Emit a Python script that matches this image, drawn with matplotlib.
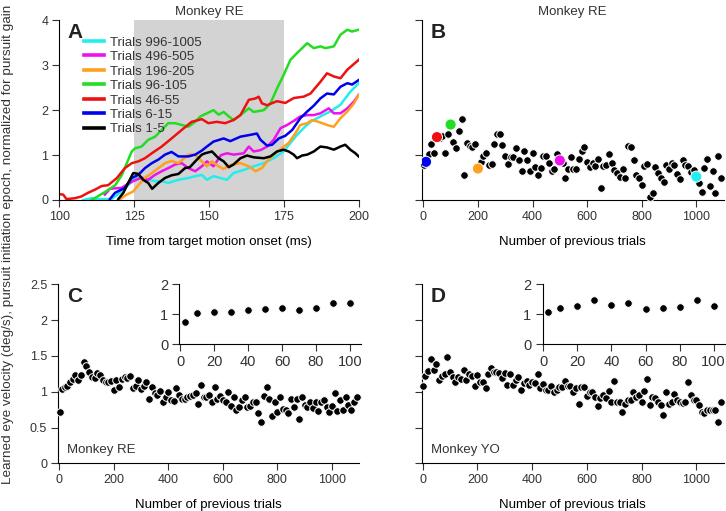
import matplotlib
matplotlib.use("Agg")
import matplotlib.pyplot as plt
import numpy as np

plt.rcParams['font.family'] = ['Liberation Sans', 'DejaVu Sans']
plt.rcParams['font.size'] = 9
plt.rcParams['text.color'] = '#333333'
plt.rcParams['xtick.color'] = '#333333'
plt.rcParams['ytick.color'] = '#333333'

# panel A: learned eye velocity over time, one line per trial block
green_t = [110.8, 115.3, 118.7, 120.9, 124.2, 125.3, 127.5, 129.7, 132.0, 134.2, 136.4, 138.7, 140.9, 143.1,
           145.4, 147.1, 149.3, 151.5, 153.2, 154.9, 156.6, 158.2, 160.5, 163.3, 164.9, 168.3, 170.5, 172.7,
           174.9, 177.2, 179.4, 182.8, 185.0, 187.2, 188.9, 191.7, 193.9, 196.2, 197.8, 200.0]
green_v = [0.0, 0.18, 0.33, 0.56, 1.08, 1.15, 1.19, 1.34, 1.41, 1.56, 1.71, 1.71, 1.67, 1.63,
           1.74, 1.86, 1.93, 2.0, 1.9, 1.96, 1.86, 1.78, 1.89, 2.04, 1.96, 2.0, 2.15, 2.48,
           2.78, 3.12, 3.27, 3.49, 3.38, 3.42, 3.38, 3.42, 3.68, 3.79, 3.75, 3.79]
red_t = [100.0, 101.3, 102.4, 105.2, 107.4, 109.6, 111.9, 114.1, 116.3, 119.1, 121.9, 124.2, 126.4, 128.6,
         130.9, 134.2, 137.5, 140.9, 144.2, 147.6, 149.8, 152.6, 155.4, 158.2, 160.5, 163.3, 165.5, 166.6,
         167.7, 169.4, 172.7, 175.5, 178.3, 181.6, 183.9, 187.2, 189.4, 191.7, 193.9, 196.2, 200.0]
red_v = [0.13, 0.12, 0.02, 0.04, 0.08, 0.16, 0.23, 0.31, 0.33, 0.48, 0.71, 0.82, 0.86, 0.93,
         1.04, 1.19, 1.37, 1.56, 1.74, 1.8, 1.71, 1.74, 1.71, 1.78, 1.89, 2.23, 2.26, 2.3,
         2.15, 2.11, 2.2, 2.16, 2.27, 2.3, 2.37, 2.63, 2.82, 2.75, 2.71, 2.9, 3.12]
blue_t = [116.9, 118.6, 121.9, 124.2, 126.4, 128.6, 130.9, 133.1, 135.3, 137.5, 139.8, 143.1, 145.4, 147.6,
          149.3, 151.5, 154.9, 157.1, 160.5, 163.8, 166.0, 167.2, 169.4, 171.1, 173.3, 175.5, 177.8, 180.5,
          182.8, 185.0, 187.2, 189.4, 191.7, 193.9, 196.2, 197.8, 200.0]
blue_v = [0.02, 0.16, 0.27, 0.49, 0.56, 0.71, 0.82, 0.9, 1.01, 1.07, 0.97, 0.97, 1.01, 1.1,
          1.19, 1.3, 1.37, 1.31, 1.41, 1.45, 1.48, 1.34, 1.21, 1.23, 1.37, 1.43, 1.56, 1.82,
          1.97, 2.1, 2.26, 2.37, 2.35, 2.52, 2.6, 2.57, 2.67]
magenta_t = [115.2, 116.9, 120.8, 122.5, 124.7, 127.5, 129.7, 132.0, 134.2, 136.4, 138.7, 140.9, 143.1,
             145.4, 147.6, 149.3, 151.5, 154.0, 156.0, 158.2, 161.6, 163.3, 164.9, 167.2, 169.4, 171.6,
             173.9, 176.1, 178.3, 180.5, 182.8, 185.0, 187.2, 190.0, 191.7, 193.9, 196.2, 198.4, 200.0]
magenta_v = [0.12, 0.25, 0.27, 0.34, 0.42, 0.5, 0.45, 0.56, 0.64, 0.71, 0.79, 0.82, 0.71,
             0.64, 0.75, 0.86, 0.75, 1.0, 1.04, 1.01, 1.04, 1.19, 1.08, 1.11, 1.19, 1.34,
             1.6, 1.67, 1.76, 1.86, 1.89, 1.89, 1.93, 2.04, 1.93, 1.93, 2.04, 2.19, 2.34]
orange_t = [120.3, 122.5, 124.7, 126.4, 128.6, 130.9, 133.1, 135.3, 137.5, 139.8, 143.1, 145.4, 147.6,
            149.3, 151.0, 153.2, 154.9, 157.1, 160.5, 163.3, 165.5, 167.7, 169.4, 171.6, 174.4, 176.6,
            178.9, 180.5, 182.8, 184.4, 186.6, 189.4, 191.7, 193.9, 196.2, 198.4, 200.0]
orange_v = [0.02, 0.12, 0.19, 0.33, 0.49, 0.6, 0.71, 0.82, 0.87, 0.82, 1.01, 1.01, 0.86,
            0.75, 0.86, 0.75, 0.69, 0.78, 0.82, 0.75, 0.64, 0.71, 0.86, 1.01, 1.16, 1.27,
            1.49, 1.67, 1.71, 1.78, 1.74, 1.67, 1.63, 1.82, 1.97, 2.15, 2.34]
cyan_t = [108.0, 110.8, 113.0, 117.4, 120.8, 123.0, 125.3, 127.5, 129.7, 132.0, 134.2, 136.4, 139.8,
          143.1, 145.4, 147.6, 149.3, 151.5, 153.8, 156.0, 158.2, 161.6, 164.9, 168.3, 171.6, 174.9,
          177.2, 179.4, 181.6, 183.9, 187.2, 190.5, 193.9, 197.2, 200.0]
cyan_v = [0.0, 0.04, 0.02, 0.02, 0.19, 0.33, 0.49, 0.49, 0.45, 0.42, 0.42, 0.38, 0.45,
          0.49, 0.53, 0.56, 0.45, 0.53, 0.49, 0.45, 0.6, 0.67, 0.75, 0.82, 0.93, 1.08,
          1.27, 1.45, 1.6, 1.74, 1.86, 1.97, 2.12, 2.41, 2.6]
black_t = [119.7, 121.4, 123.0, 124.7, 126.4, 128.0, 129.7, 131.0, 133.1, 135.3, 137.5, 139.8, 142.0,
           143.6, 145.4, 147.6, 148.7, 151.0, 153.2, 154.9, 156.6, 158.2, 160.5, 162.7, 164.9, 168.3,
           170.5, 172.7, 174.9, 176.6, 178.3, 179.4, 181.1, 182.8, 185.0, 187.2, 189.4, 191.7, 193.9,
           195.5, 197.2, 198.9, 200.0]
black_v = [0.02, 0.16, 0.38, 0.6, 0.58, 0.45, 0.38, 0.25, 0.38, 0.49, 0.55, 0.58, 0.71,
           0.73, 0.86, 1.01, 1.04, 1.08, 0.93, 0.86, 0.73, 0.79, 0.93, 0.99, 0.95, 0.93,
           0.97, 1.08, 1.12, 1.08, 1.01, 0.93, 0.99, 1.01, 1.08, 1.19, 1.17, 1.12, 1.19,
           1.23, 1.12, 1.04, 0.97]

# trial numbers for the block means (B, C, D)
trials = [3] + list(range(10, 1100, 10))

b_vals = [0.77, 0.85, 1.02, 1.25, 1.05, 1.40, 1.37, 1.42, 1.04, 1.47, 1.68, 1.28, 1.16, 1.54, 1.81,
          0.56, 1.26, 1.21, 1.18, 1.25, 0.70, 0.85, 0.97, 1.04, 0.78, 0.80, 1.25, 1.46, 1.46, 1.22,
          0.99, 0.80, 0.95, 0.95, 1.15, 0.90, 0.65, 1.09, 0.90, 0.65, 1.04, 0.74, 0.56, 0.72, 0.99,
          0.97, 0.83, 0.65, 0.70, 1.02, 0.88, 0.82, 0.48, 0.70, 0.95, 0.70, 0.69, 0.91, 1.10, 1.19,
          0.84, 0.74, 0.82, 0.76, 0.91, 0.26, 0.76, 0.78, 1.02, 0.82, 0.67, 0.61, 0.52, 0.70, 0.48,
          1.20, 1.19, 0.89, 0.56, 0.48, 0.33, 0.76, 0.80, 0.06, 0.16, 0.73, 0.59, 0.50, 0.39, 0.78,
          0.68, 0.82, 0.78, 0.58, 0.46, 0.88, 0.78, 0.76, 0.63, 0.67, 0.52, 0.37, 0.17, 0.72, 0.91,
          0.31, 0.65, 0.15, 0.99, 0.50]
# highlighted blocks in B (same colours as A)
hl_trials = [10, 50, 100, 200, 500, 1000]
hl_vals = [0.85, 1.40, 1.68, 0.70, 0.88, 0.52]
hl_cols = ['#0000ee', '#ee1111', '#22dd22', '#ffa020', '#ee11ee', '#22eeee']

c_vals = [0.72, 1.04, 1.06, 1.08, 1.13, 1.18, 1.23, 1.17, 1.24, 1.41, 1.36, 1.28, 1.20, 1.19, 1.26,
          1.23, 1.17, 1.13, 1.13, 1.15, 1.03, 1.17, 1.06, 1.18, 1.20, 1.19, 1.22, 1.05, 1.08, 1.17,
          1.04, 1.08, 1.14, 0.90, 1.06, 0.98, 0.95, 1.01, 0.85, 0.92, 1.00, 0.88, 0.87, 1.05, 0.95,
          0.90, 0.90, 0.92, 0.94, 0.96, 0.98, 0.83, 1.10, 0.92, 0.93, 0.95, 0.85, 1.06, 0.90, 0.94,
          0.88, 0.85, 1.00, 0.80, 0.92, 0.75, 0.78, 0.88, 0.92, 0.78, 0.80, 0.85, 0.85, 0.70, 0.58,
          0.94, 1.06, 0.90, 0.66, 0.86, 0.72, 0.93, 0.76, 0.74, 0.70, 0.90, 0.78, 0.90, 0.62, 0.92,
          0.82, 0.78, 0.86, 0.77, 0.86, 0.73, 0.86, 0.88, 0.78, 0.72, 0.80, 0.98, 0.73, 0.88, 0.74,
          0.93, 0.82, 0.75, 0.86, 0.92]
d_vals = [1.08, 1.22, 1.29, 1.46, 1.31, 1.39, 1.17, 1.22, 1.25, 1.49, 1.27, 1.20, 1.14, 1.21, 1.18,
          1.30, 1.16, 1.25, 1.22, 1.08, 1.23, 1.13, 1.13, 1.05, 1.25, 1.33, 1.28, 1.27, 1.26, 1.19,
          1.26, 1.09, 1.25, 1.09, 1.17, 1.21, 1.03, 1.12, 1.15, 1.10, 1.13, 1.12, 1.25, 1.05, 1.11,
          1.03, 1.02, 1.08, 1.00, 1.03, 1.07, 1.06, 1.15, 1.08, 1.08, 1.00, 1.05, 0.83, 1.06, 1.06,
          0.94, 1.00, 1.00, 0.93, 0.80, 0.91, 0.95, 0.91, 1.01, 0.86, 1.15, 0.86, 0.86, 0.71, 0.83,
          0.89, 0.89, 1.00, 0.93, 0.95, 0.86, 1.01, 1.18, 0.81, 0.93, 0.91, 0.85, 0.81, 0.68, 1.00,
          0.83, 0.85, 0.97, 0.88, 0.86, 0.84, 0.85, 1.13, 0.95, 0.89, 0.88, 0.82, 0.71, 0.70, 0.74,
          0.75, 0.74, 0.74, 0.57, 0.85]

inset_trials = [3, 10, 20, 30, 40, 50, 60, 70, 80, 90, 100]
c_inset = [0.73, 1.05, 1.07, 1.08, 1.13, 1.19, 1.22, 1.15, 1.22, 1.39, 1.36]
d_inset = [1.08, 1.22, 1.29, 1.46, 1.31, 1.38, 1.17, 1.22, 1.23, 1.48, 1.27]

W, H = 726, 511
fig = plt.figure(figsize=(W / 100, H / 100), dpi=100)


def px_axes(x0, x1, ytop, ybot):
    return fig.add_axes([x0 / W, 1 - ybot / H, (x1 - x0) / W, (ybot - ytop) / H])


def style(ax):
    ax.spines['top'].set_visible(False)
    ax.spines['right'].set_visible(False)
    ax.tick_params(direction='out', length=5, width=0.8, labelsize=9, pad=3)


def dots(ax, x, y):
    ax.scatter(x, y, s=30, c='black', edgecolors='white', linewidths=0.7, zorder=3, clip_on=False)


axA = px_axes(59.3, 358.7, 20.3, 200)
axB = px_axes(421.8, 723.6, 20.3, 200)
axC = px_axes(58.3, 359.3, 284.3, 463.3)
axD = px_axes(421.8, 723.6, 284.3, 463.3)

# A
style(axA)
axA.axvspan(125, 175, color='#d3d3d3', lw=0, zorder=0)
lines = [(cyan_t, cyan_v, hl_cols[5], 'Trials 996-1005'),
         (magenta_t, magenta_v, hl_cols[4], 'Trials 496-505'),
         (orange_t, orange_v, hl_cols[3], 'Trials 196-205'),
         (green_t, green_v, hl_cols[2], 'Trials 96-105'),
         (red_t, red_v, hl_cols[1], 'Trials 46-55'),
         (blue_t, blue_v, hl_cols[0], 'Trials 6-15'),
         (black_t, black_v, 'black', 'Trials 1-5')]
for t, v, col, lab in lines:
    axA.plot(t, v, color=col, lw=1.8, label=lab)
axA.set_xlim(100, 200)
axA.set_ylim(0, 4)
axA.set_xticks([100, 125, 150, 175, 200])
axA.set_yticks([0, 1, 2, 3, 4])
axA.set_xlabel('Time from target motion onset (ms)', fontsize=9.5, labelpad=9)
axA.set_title('Monkey RE', fontsize=9.5, pad=4)
leg = axA.legend(loc='upper left', bbox_to_anchor=(0.065, 0.94), frameon=False, fontsize=9.5,
                 handlelength=1.5, handletextpad=0.45, labelspacing=0.17, borderaxespad=0)
for h in leg.get_lines():
    h.set_linewidth(2.6)

# B
style(axB)
dots(axB, trials, b_vals)
axB.scatter(hl_trials, hl_vals, s=64, c=hl_cols, edgecolors='white', linewidths=0.7, zorder=4)
axB.set_xlim(-5.5, 1100)
axB.set_ylim(0, 4)
axB.set_xticks([0, 200, 400, 600, 800, 1000])
axB.set_yticks([0, 1, 2, 3, 4])
axB.set_yticklabels([])
axB.set_xlabel('Number of previous trials', fontsize=9.5, labelpad=9)
axB.set_title('Monkey RE', fontsize=9.5, pad=4)

# C and D
for ax, vals, name in [(axC, c_vals, 'Monkey RE'), (axD, d_vals, 'Monkey YO')]:
    style(ax)
    dots(ax, trials, vals)
    ax.set_xlim(-3, 1100)
    ax.set_ylim(0, 2.5)
    ax.set_xticks([0, 200, 400, 600, 800, 1000])
    ax.set_yticks([0, 0.5, 1, 1.5, 2, 2.5])
    ax.set_xlabel('Number of previous trials', fontsize=9.5, labelpad=9)
    ax.text(0.03, 0.04, name, transform=ax.transAxes, fontsize=9.5, va='bottom')
axC.set_yticklabels(['0', '0.5', '1', '1.5', '2', '2.5'])
axD.set_yticklabels([])

for ax, letter in [(axA, 'A'), (axB, 'B'), (axC, 'C'), (axD, 'D')]:
    ax.text(0.028, 0.985, letter, transform=ax.transAxes, fontsize=15, fontweight='bold',
            color='#222222', va='top', ha='left')

# insets
insC = px_axes(179.3, 361.0, 284.3, 344.3)
insD = px_axes(542.5, 724.7, 284.3, 344.3)
for ins, vals in [(insC, c_inset), (insD, d_inset)]:
    style(ins)
    ins.patch.set_alpha(0)
    dots(ins, inset_trials, vals)
    ins.set_xlim(-0.5, 106.5)
    ins.set_ylim(0, 2)
    ins.set_xticks([0, 20, 40, 60, 80, 100])
    ins.set_yticks([0, 1, 2])
    ins.tick_params(labelsize=10.5)

fig.text(0.011, 0.522, 'Learned eye velocity (deg/s), pursuit initiation epoch, normalized for pursuit gain',
         rotation=90, va='center', ha='center', fontsize=9.7)

fig.savefig('out.png', dpi=100)
